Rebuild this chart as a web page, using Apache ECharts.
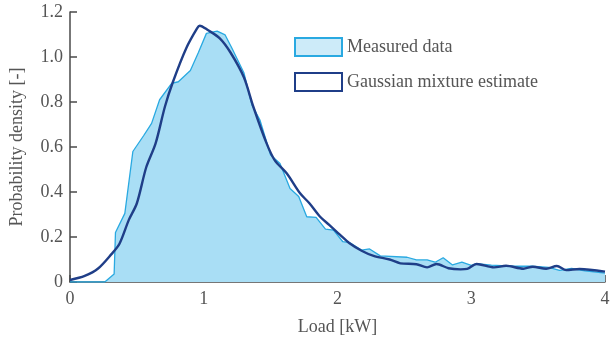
<!DOCTYPE html>
<html>
<head>
<meta charset="utf-8">
<script src="https://cdn.jsdelivr.net/npm/echarts@6/dist/echarts.min.js"></script>
<style>
html,body{margin:0;padding:0;background:#fff;}
#chart{width:611px;height:339px;}
</style>
</head>
<body>
<div id="chart"></div>
<script>
// Measured data (histogram-like polyline)
const measuredX = [0, 0.26, 0.33, 0.34, 0.41, 0.47, 0.55, 0.61, 0.67, 0.76, 0.81, 0.90, 0.96, 1.02, 1.10, 1.16, 1.21, 1.30, 1.36, 1.42, 1.50, 1.57, 1.645, 1.71, 1.77, 1.84, 1.91, 1.97, 2.04, 2.09, 2.18, 2.24, 2.32, 2.52, 2.59, 2.67, 2.73, 2.79, 2.86, 2.93, 3.0, 3.04, 3.15, 3.3, 3.45, 3.58, 3.66, 3.75, 3.85, 4.0];
const measuredY = [0, 0, 0.036, 0.22, 0.305, 0.58, 0.65, 0.705, 0.81, 0.883, 0.89, 0.94, 1.02, 1.105, 1.115, 1.098, 1.04, 0.93, 0.787, 0.72, 0.564, 0.527, 0.416, 0.38, 0.29, 0.287, 0.235, 0.231, 0.179, 0.175, 0.142, 0.147, 0.116, 0.11, 0.098, 0.098, 0.088, 0.108, 0.076, 0.088, 0.074, 0.082, 0.075, 0.07, 0.07, 0.065, 0.052, 0.06, 0.05, 0.039];

// Gaussian mixture estimate
const mixtureX = [0, 0.11, 0.21, 0.31, 0.37, 0.44, 0.50, 0.57, 0.64, 0.71, 0.77, 0.87, 0.95, 0.97, 1.03, 1.12, 1.2, 1.3, 1.37, 1.47, 1.53, 1.62, 1.72, 1.79, 1.87, 1.94, 2.02, 2.09, 2.18, 2.27, 2.39, 2.47, 2.59, 2.67, 2.74, 2.83, 2.92, 2.97, 3.04, 3.17, 3.26, 3.39, 3.46, 3.56, 3.64, 3.71, 3.81, 4.0];
const mixtureY = [0.009, 0.027, 0.06, 0.124, 0.17, 0.276, 0.35, 0.51, 0.616, 0.78, 0.89, 1.04, 1.127, 1.139, 1.12, 1.083, 1.02, 0.91, 0.78, 0.616, 0.542, 0.483, 0.394, 0.35, 0.29, 0.253, 0.209, 0.172, 0.139, 0.116, 0.1, 0.083, 0.079, 0.065, 0.08, 0.061, 0.056, 0.058, 0.08, 0.065, 0.072, 0.059, 0.068, 0.059, 0.071, 0.053, 0.058, 0.046];

const seriesNames = ['Measured data', 'Gaussian mixture estimate'];
const xAxisTitle = 'Load [kW]';
const yAxisTitle = 'Probability density [-]';

const measured = measuredX.map((x, i) => [x, measuredY[i]]);
const mixture = mixtureX.map((x, i) => [x, mixtureY[i]]);

const FONT = '"Liberation Serif", "DejaVu Serif", serif';
const TXT = '#555555';
const AX = '#4a4a4a';
const LIGHT = '#29a9e1';
const FILL = '#a9def5';
const DARK = '#1f3e88';

const chart = echarts.init(document.getElementById('chart'), null, {renderer: 'canvas'});
chart.setOption({
  animation: false,
  backgroundColor: '#ffffff',
  textStyle: {fontFamily: FONT, color: TXT},
  grid: {left: 70, right: 6, top: 12, bottom: 57, containLabel: false, outerBoundsMode: 'none'},
  legend: {
    left: 294, top: 37, orient: 'vertical', padding: 0,
    icon: 'rect', itemWidth: 47, itemHeight: 18, itemGap: 15,
    textStyle: {fontFamily: FONT, fontSize: 18, color: TXT},
    data: [
      {name: seriesNames[0], itemStyle: {color: '#cdebf9', borderColor: LIGHT, borderWidth: 2}},
      {name: seriesNames[1], itemStyle: {color: '#ffffff', borderColor: DARK, borderWidth: 2}}
    ]
  },
  xAxis: {
    type: 'value', min: 0, max: 4, interval: 1,
    name: xAxisTitle, nameLocation: 'middle', nameGap: 36,
    nameTextStyle: {fontFamily: FONT, fontSize: 18, color: TXT},
    axisLine: {show: true, onZero: false, lineStyle: {color: AX, width: 1.5}},
    axisTick: {show: true, inside: true, length: 7, lineStyle: {color: AX, width: 1.5}},
    axisLabel: {fontFamily: FONT, fontSize: 18, color: TXT, margin: 8},
    splitLine: {show: false}
  },
  yAxis: {
    type: 'value', min: 0, max: 1.2, interval: 0.2,
    name: yAxisTitle, nameLocation: 'middle', nameGap: 44,
    nameTextStyle: {fontFamily: FONT, fontSize: 18, color: TXT},
    axisLine: {show: true, lineStyle: {color: AX, width: 1.5}},
    axisTick: {show: true, inside: true, length: 7, lineStyle: {color: AX, width: 1.5}},
    axisLabel: {fontFamily: FONT, fontSize: 18, color: TXT, margin: 7,
      formatter: v => v === 0 ? '0' : v.toFixed(1)},
    splitLine: {show: false}
  },
  series: [
    {
      name: seriesNames[0], type: 'line', data: measured,
      symbol: 'none', smooth: false,
      lineStyle: {color: LIGHT, width: 1.3},
      itemStyle: {color: LIGHT},
      areaStyle: {color: FILL, opacity: 1},
      z: 2
    },
    {
      name: seriesNames[1], type: 'line', data: mixture,
      symbol: 'none', smooth: 0.3,
      lineStyle: {color: DARK, width: 2.4},
      itemStyle: {color: DARK},
      z: 3
    }
  ]
});
</script>
</body>
</html>
